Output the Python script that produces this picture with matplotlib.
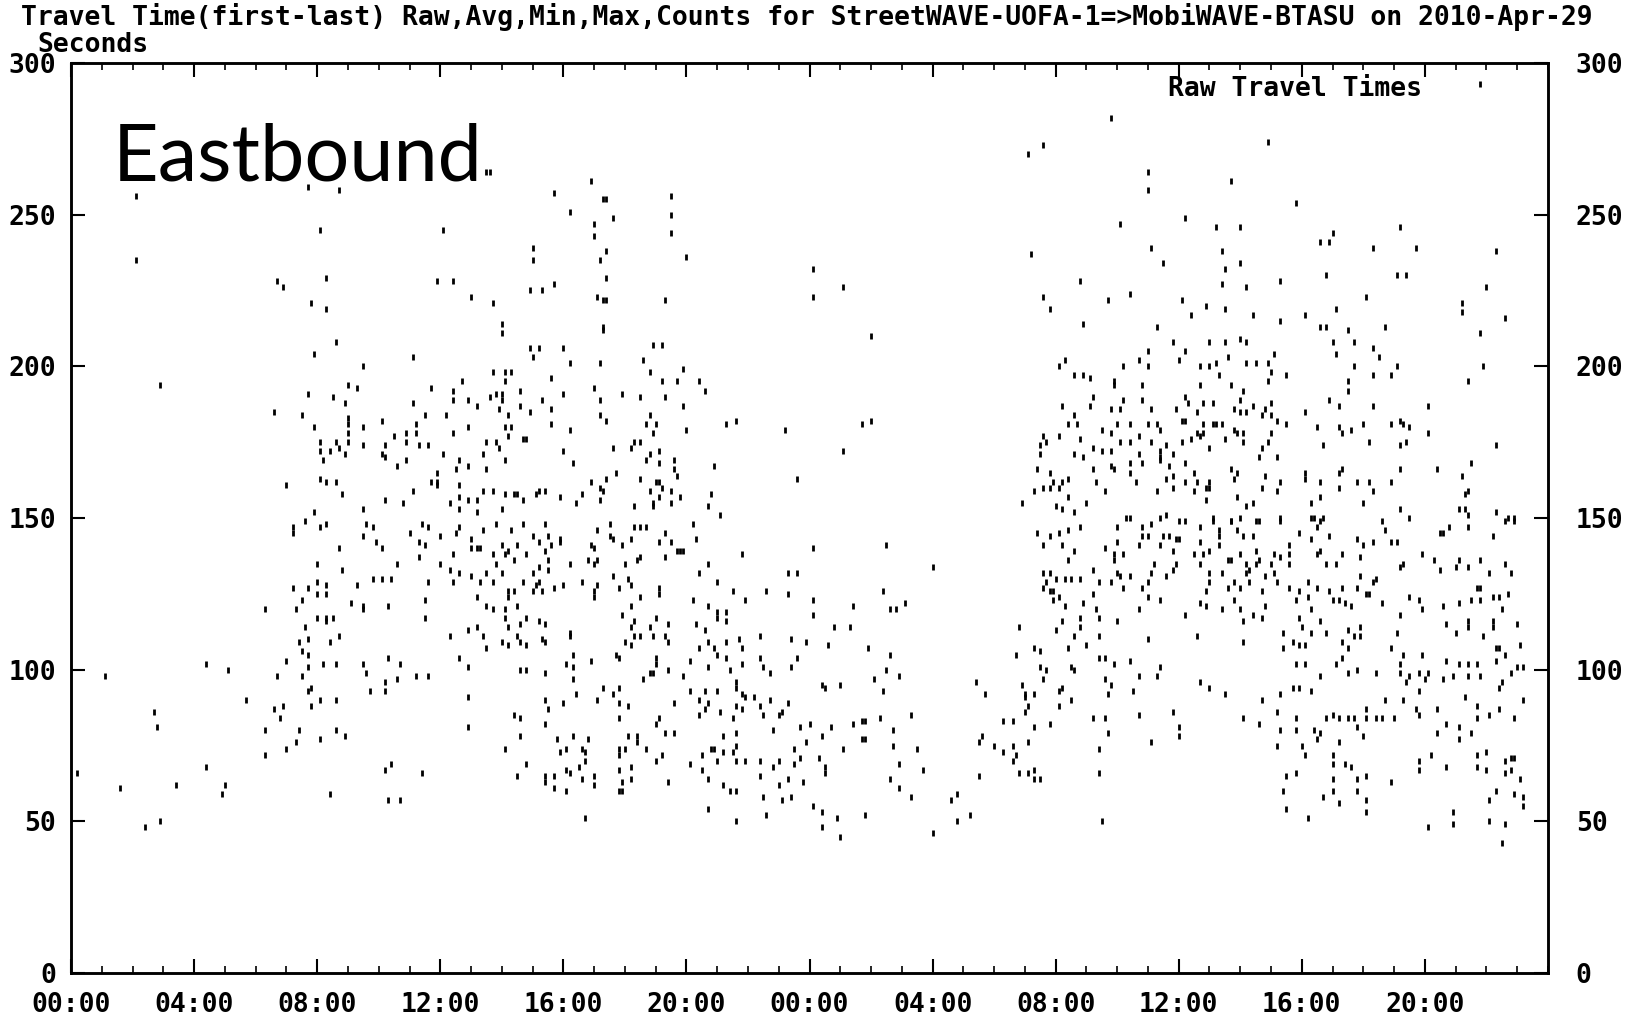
import numpy as np
import matplotlib
matplotlib.use("Agg")
import matplotlib.pyplot as plt
from matplotlib.ticker import MultipleLocator

# raw travel times, (hour since start of plot, seconds)
night1 = [(0.2, 66), (1.1, 98), (1.6, 61), (2.4, 48), (2.9, 50), (2.7, 86), (2.8, 81), (3.4, 62),
          (4.4, 102), (4.4, 68), (5.1, 100), (5.0, 62), (4.9, 59), (5.7, 90), (6.3, 120), (6.3, 72),
          (6.3, 80), (6.6, 87), (6.9, 88), (6.8, 84), (6.7, 98), (7.0, 103), (7.0, 74), (7.3, 76),
          (2.1, 256), (2.1, 235), (2.9, 194)]

day1_high = [(7.7, 259), (8.7, 258), (8.1, 245), (12.1, 245), (13.5, 264), (13.6, 264), (15.7, 257),
             (16.2, 251), (15.0, 239), (15.0, 235), (6.7, 228), (6.9, 226), (8.3, 229), (7.8, 221),
             (8.3, 219), (11.9, 228), (12.4, 228), (13.0, 223), (13.7, 221), (14.0, 214), (14.0, 211),
             (14.9, 225), (15.3, 225), (15.7, 227), (8.6, 208), (7.9, 204), (11.1, 203), (9.5, 200),
             (14.9, 206), (15.2, 206), (16.0, 206), (15.0, 203), (15.6, 196), (12.7, 195), (13.7, 198),
             (14.1, 198), (14.3, 198), (14.1, 195), (9.0, 194), (9.3, 193), (7.7, 191), (8.5, 190),
             (8.9, 188), (11.7, 193), (12.4, 192), (12.4, 189), (11.1, 188), (12.9, 189), (13.2, 187),
             (13.6, 190), (13.8, 191), (14.0, 191), (13.9, 186), (14.0, 189), (14.2, 184), (14.6, 192),
             (14.6, 187), (14.9, 185), (15.3, 189), (15.6, 186), (16.0, 191), (6.6, 185), (7.5, 184),
             (7.9, 180), (9.0, 183), (9.0, 181), (9.0, 178), (9.0, 175), (9.5, 180), (9.5, 174),
             (10.1, 182), (11.2, 181), (10.9, 178), (11.2, 178), (11.5, 184), (12.2, 184), (12.4, 178),
             (12.9, 180), (14.1, 180), (14.3, 180), (14.2, 177), (14.7, 176), (14.8, 176), (15.6, 181),
             (16.0, 172), (8.1, 175), (8.6, 175), (8.7, 173), (8.1, 172), (8.4, 172), (8.9, 171),
             (8.2, 169), (10.5, 177), (10.2, 174), (10.1, 171), (10.2, 170), (10.6, 167), (10.9, 175),
             (11.3, 174), (11.6, 174), (10.9, 169), (12.1, 171), (12.6, 169), (12.9, 167), (11.9, 165),
             (11.9, 162), (12.5, 166), (13.4, 171), (13.5, 166), (13.5, 175), (13.8, 175), (13.9, 173),
             (14.1, 169), (8.1, 163), (8.3, 162), (8.6, 162), (8.8, 158), (7.0, 161), (11.7, 162),
             (11.9, 161), (11.1, 159), (12.6, 161), (13.4, 159), (13.7, 159), (14.1, 158), (14.4, 158),
             (14.5, 158), (14.7, 156), (15.1, 158), (15.2, 159), (15.4, 159), (15.9, 157), (10.2, 156),
             (10.8, 155), (9.5, 153), (7.9, 152), (12.3, 155), (12.6, 157), (12.6, 153), (12.9, 156),
             (13.2, 156), (13.2, 152), (14.0, 153)]

day1_low = [(7.2, 147), (7.2, 145), (7.2, 127), (7.3, 120), (7.5, 123), (7.6, 114), (7.7, 110), (7.4, 109),
            (7.5, 106), (7.7, 105), (7.7, 101), (7.5, 98), (7.7, 93), (7.8, 94), (7.8, 88), (7.4, 80),
            (7.6, 149), (8.1, 147), (8.3, 148), (8.0, 135), (8.0, 129), (8.3, 128), (7.7, 127), (8.0, 125),
            (8.3, 125), (8.0, 117), (8.3, 117), (8.5, 117), (8.3, 116), (8.7, 140), (8.8, 133), (8.7, 111),
            (8.4, 109), (8.2, 102), (8.6, 102), (8.1, 90), (8.6, 90), (8.6, 80), (8.9, 78), (8.1, 77),
            (8.4, 59), (9.1, 122), (9.5, 121), (9.5, 120), (9.3, 128), (9.5, 144), (9.6, 148), (9.8, 147),
            (9.9, 142), (10.1, 140), (9.5, 102), (9.6, 99), (9.7, 93), (9.8, 130), (10.1, 130), (10.4, 130),
            (10.3, 121), (10.3, 104), (10.2, 96), (10.2, 93), (10.4, 69), (10.2, 67), (10.3, 57), (10.7, 57),
            (10.6, 135), (10.7, 102), (10.6, 97), (11.0, 145), (11.3, 142), (11.3, 137), (11.5, 141),
            (11.4, 148), (11.6, 147), (11.6, 129), (11.5, 123), (11.5, 117), (11.2, 98), (11.6, 98),
            (11.4, 66), (12.0, 135), (12.0, 144), (12.3, 133), (12.3, 111), (12.4, 138), (12.4, 129),
            (12.6, 147), (12.5, 145), (12.6, 132), (12.6, 104), (12.9, 101), (12.9, 91), (12.9, 81),
            (13.0, 143), (13.0, 140), (13.2, 140), (13.3, 140), (13.0, 131), (13.3, 129), (13.5, 132),
            (13.2, 124), (13.5, 121), (13.7, 120), (12.9, 113), (13.2, 114), (13.4, 111), (13.5, 107),
            (13.4, 146), (13.8, 148), (13.7, 138), (13.8, 135), (14.0, 141), (14.1, 138), (14.2, 139),
            (14.0, 132), (13.7, 129), (14.2, 126), (14.2, 124), (14.1, 120), (14.1, 117), (14.2, 114),
            (14.5, 121), (14.0, 109), (14.2, 108), (14.5, 111), (14.6, 109), (14.8, 108), (14.6, 115),
            (14.8, 117), (14.3, 146), (14.4, 136), (14.5, 141), (14.7, 148), (14.8, 138), (15.0, 144),
            (14.7, 129), (14.4, 126), (14.1, 74), (14.4, 85), (14.6, 84), (14.6, 78), (14.5, 65),
            (14.8, 69), (14.6, 100), (14.8, 100), (15.0, 132), (15.1, 128), (15.0, 126), (15.2, 129),
            (15.2, 134), (15.3, 126), (15.2, 116), (15.3, 110), (15.4, 109), (15.4, 115), (15.4, 139),
            (15.5, 136), (15.5, 133), (15.2, 142), (15.4, 148), (15.5, 144), (15.6, 141), (15.9, 142),
            (15.9, 143), (15.7, 127), (16.0, 128), (15.4, 99), (15.4, 90), (15.5, 87), (15.4, 82),
            (15.8, 77), (15.9, 73), (16.1, 74), (16.0, 89), (15.4, 63), (15.4, 65), (15.7, 65),
            (15.7, 61), (16.1, 67), (16.1, 60), (16.1, 102), (16.2, 111)]

eve1_high = [(16.9, 261), (17.3, 255), (17.4, 255), (17.6, 249), (17.0, 247), (17.0, 243), (17.4, 238),
             (17.2, 235), (17.4, 229), (17.1, 223), (17.3, 222), (17.4, 222), (17.3, 213), (17.3, 212),
             (19.5, 256), (19.5, 250), (19.5, 244), (20.0, 236), (19.3, 222), (18.9, 207), (19.2, 207),
             (18.6, 202), (16.2, 201), (17.2, 201), (18.8, 198), (19.9, 199), (19.2, 195), (19.7, 195),
             (20.4, 195), (20.6, 192), (17.0, 193), (17.9, 191), (18.5, 190), (19.3, 190), (17.2, 189),
             (19.9, 187), (17.2, 184), (17.4, 182), (18.8, 184), (18.7, 181), (19.0, 181), (18.9, 178),
             (20.0, 179), (21.3, 181), (21.6, 182), (23.2, 179), (16.2, 179), (24.1, 232), (24.1, 223),
             (25.1, 226), (26.0, 210), (26.0, 182), (25.7, 181), (25.1, 172), (23.6, 163), (31.1, 270),
             (31.6, 273), (31.2, 237), (31.6, 223), (31.8, 219), (32.1, 200), (31.6, 177), (31.5, 174),
             (31.7, 175), (31.5, 171), (31.4, 166), (31.8, 165), (31.9, 162), (32.1, 160), (31.8, 160),
             (31.6, 160), (31.3, 159), (30.9, 155), (32.0, 154), (17.6, 173), (18.2, 173), (18.3, 175),
             (18.5, 175), (18.8, 171), (19.1, 172), (18.7, 169), (19.1, 168), (19.6, 169), (19.6, 166),
             (19.7, 164), (20.9, 167), (16.3, 168), (17.7, 165), (16.9, 162), (17.4, 163), (18.5, 163),
             (19.0, 162), (19.1, 162), (19.2, 160), (16.6, 158), (17.2, 160), (17.3, 159), (18.8, 159),
             (19.5, 159), (20.8, 158), (16.4, 155), (17.2, 156), (18.3, 154), (18.9, 154), (18.9, 155),
             (19.1, 157), (19.5, 155), (19.8, 157), (20.7, 154), (21.1, 151)]

eve1_low = [(17.5, 148), (17.1, 146), (17.5, 144), (17.6, 143), (17.9, 141), (18.3, 147), (18.5, 147),
            (18.7, 147), (18.2, 143), (20.2, 148), (20.3, 143), (19.3, 145), (19.1, 142), (19.5, 142),
            (19.3, 137), (19.7, 139), (19.8, 139), (19.9, 139), (17.0, 140), (16.9, 141), (16.8, 136),
            (17.0, 135), (17.1, 136), (16.2, 135), (16.6, 129), (17.1, 128), (17.0, 126), (17.0, 124),
            (18.5, 137), (18.4, 136), (18.0, 135), (17.6, 131), (17.8, 127), (18.1, 130), (18.2, 128),
            (18.5, 124), (18.2, 121), (17.9, 118), (18.3, 116), (18.2, 114), (19.1, 127), (19.1, 125),
            (19.0, 117), (19.4, 115), (18.8, 114), (18.9, 111), (19.3, 111), (19.4, 109), (18.5, 111),
            (18.3, 111), (20.2, 123), (20.7, 135), (21.0, 129), (20.7, 121), (21.0, 119), (21.0, 117),
            (21.3, 119), (21.3, 116), (20.4, 132), (20.3, 115), (20.6, 113), (21.5, 126), (21.8, 138),
            (21.9, 123), (22.6, 126), (23.3, 132), (23.6, 132), (23.3, 125), (24.1, 140), (24.1, 123),
            (24.1, 118), (25.4, 121), (25.3, 114), (24.8, 114), (26.6, 120), (26.8, 120), (27.1, 122),
            (26.4, 126), (26.5, 141), (28.0, 134), (31.4, 145), (31.6, 141), (31.8, 144), (32.1, 145),
            (31.6, 132), (31.8, 132), (31.7, 129), (32.0, 130), (31.6, 127), (31.8, 126), (31.9, 126),
            (31.9, 123), (32.1, 124), (32.0, 113), (30.8, 114), (16.3, 105), (16.3, 101), (16.3, 97),
            (16.4, 92), (16.9, 103), (16.2, 112), (18.0, 109), (18.2, 108), (17.7, 105), (17.8, 104),
            (19.0, 104), (19.0, 102), (18.9, 99), (18.8, 99), (18.6, 97), (19.4, 100), (19.9, 98),
            (20.1, 103), (20.4, 107), (20.7, 109), (20.9, 107), (21.0, 105), (21.3, 104), (21.3, 109),
            (21.8, 107), (20.7, 101), (21.4, 100), (21.8, 102), (21.7, 110), (22.4, 111), (22.4, 104),
            (22.5, 101), (22.7, 99), (23.6, 104), (23.4, 110), (23.4, 101), (23.9, 109), (24.6, 108),
            (25.9, 107), (26.6, 105), (26.5, 100), (26.9, 98), (26.1, 97), (24.4, 95), (24.5, 94),
            (25.0, 95), (26.4, 93), (17.3, 94), (17.6, 92), (17.8, 94), (17.1, 90), (17.8, 89), (18.1, 88),
            (17.8, 84), (18.1, 78), (18.4, 78), (18.4, 76), (18.7, 74), (19.0, 82), (19.1, 84), (19.3, 79),
            (19.6, 79), (19.6, 89), (19.2, 72), (19.0, 70), (20.1, 93), (20.4, 90), (20.7, 89), (20.6, 87),
            (20.6, 93), (21.0, 93), (20.4, 85), (21.1, 86), (21.5, 84), (21.6, 96), (21.6, 94), (21.8, 92),
            (21.9, 91), (21.6, 88), (21.8, 87), (22.2, 91), (22.4, 88), (22.7, 90), (22.5, 85), (23.0, 85),
            (23.1, 86), (23.3, 89), (22.8, 80), (21.2, 78), (21.6, 79), (20.8, 74), (20.9, 74), (20.5, 72),
            (21.2, 73), (21.5, 73), (21.6, 75), (20.1, 69), (20.5, 67), (21.0, 70), (21.6, 70), (21.9, 70),
            (22.4, 70), (22.4, 65), (22.8, 68), (23.0, 70), (23.5, 69), (20.7, 64), (21.2, 62), (21.4, 60),
            (21.6, 60), (23.7, 81), (24.0, 82), (23.9, 76), (23.5, 74), (23.7, 71), (24.3, 71), (24.4, 78),
            (24.7, 81), (24.5, 68), (24.5, 66), (23.8, 63), (23.3, 64), (23.0, 62), (22.5, 58), (23.1, 57),
            (23.4, 58), (25.1, 74), (25.4, 82), (25.7, 83), (25.8, 83), (25.7, 77), (25.8, 77), (26.3, 84),
            (26.7, 80), (26.7, 75), (26.9, 69), (26.6, 64), (26.9, 61), (27.3, 58), (27.5, 74), (27.7, 67),
            (27.3, 85), (20.7, 54), (21.6, 50), (22.6, 52), (24.1, 55), (24.4, 53), (24.4, 48), (24.9, 51),
            (25.0, 45), (25.8, 52), (28.0, 46), (28.6, 57), (28.8, 59), (28.8, 50), (29.2, 52), (16.7, 51),
            (16.3, 78), (16.8, 77), (16.6, 74), (16.7, 70), (16.7, 73), (16.5, 68), (16.6, 64), (16.2, 66),
            (17.0, 65), (17.0, 62), (17.8, 74), (18.0, 74), (17.8, 72), (17.8, 67), (18.2, 68), (17.9, 63),
            (17.9, 60), (17.8, 60), (18.2, 64), (19.4, 63), (29.4, 96), (29.7, 92), (29.6, 78), (29.5, 76),
            (29.5, 65), (30.0, 75), (30.3, 83), (30.6, 83), (30.3, 73), (30.6, 75), (30.7, 72), (30.6, 70),
            (30.8, 66), (31.1, 66), (31.3, 64), (31.5, 64), (31.3, 67), (31.1, 76), (30.7, 105), (31.3, 107),
            (31.5, 106), (31.5, 101), (31.7, 100), (31.6, 97), (30.9, 95), (31.0, 92), (31.0, 91), (31.3, 92),
            (31.1, 88), (31.0, 86), (31.3, 81), (31.8, 82), (32.1, 88)]

day2_high = [(45.8, 293), (33.8, 282), (38.9, 274), (35.0, 264), (35.0, 258), (37.7, 261), (39.8, 254),
             (34.1, 247), (36.2, 249), (37.2, 246), (38.0, 246), (43.2, 246), (41.0, 244), (40.6, 241),
             (40.9, 241), (42.3, 239), (43.7, 239), (46.3, 238), (35.1, 239), (35.5, 234), (37.4, 238),
             (37.5, 232), (37.4, 227), (38.0, 234), (32.8, 228), (34.4, 224), (33.7, 222), (36.1, 222),
             (38.2, 226), (39.3, 228), (40.8, 230), (43.1, 230), (43.4, 230), (46.0, 226), (42.1, 223),
             (41.1, 219), (45.2, 221), (45.2, 218), (46.6, 216), (45.8, 211), (45.9, 200), (45.4, 195),
             (36.9, 220), (37.5, 219), (36.4, 217), (38.4, 217), (39.3, 215), (40.1, 217), (32.9, 214),
             (35.3, 213), (40.6, 213), (40.8, 213), (41.5, 212), (42.7, 213), (35.8, 208), (37.0, 208),
             (37.5, 208), (38.0, 209), (38.2, 208), (41.0, 208), (41.7, 208), (42.3, 206), (32.3, 202),
             (32.6, 197), (32.9, 197), (33.1, 196), (33.9, 195), (34.2, 200), (34.7, 202), (35.0, 205),
             (35.0, 200), (36.0, 202), (36.2, 205), (34.8, 194), (36.7, 200), (37.0, 200), (37.2, 201),
             (37.6, 203), (37.3, 197), (36.7, 194), (37.7, 194), (38.2, 201), (38.5, 201), (38.9, 201),
             (39.1, 204), (39.0, 198), (38.9, 195), (39.5, 197), (41.1, 204), (41.7, 200), (42.3, 197),
             (42.5, 203), (42.9, 197), (43.1, 200), (41.5, 195), (41.5, 192), (32.2, 187), (32.6, 184),
             (33.1, 187), (33.2, 190), (33.8, 186), (34.1, 186), (34.2, 189), (33.9, 194), (34.8, 189),
             (35.1, 186), (35.9, 186), (36.2, 190), (36.3, 188), (36.6, 185), (36.8, 188), (37.1, 188),
             (36.1, 182), (36.2, 182), (37.8, 186), (38.0, 189), (38.1, 192), (38.0, 185), (38.2, 185),
             (38.4, 187), (38.7, 184), (38.8, 186), (39.0, 188), (39.0, 184), (39.2, 182), (39.5, 181),
             (40.1, 185), (40.5, 180), (40.9, 189), (41.2, 187), (42.3, 187), (44.1, 187), (43.2, 182),
             (43.3, 181), (42.9, 181), (43.5, 180), (42.0, 181), (41.6, 179), (41.3, 178), (41.2, 180),
             (32.4, 181), (32.7, 181), (33.5, 179), (33.8, 178), (34.0, 181), (34.4, 181), (35.0, 181),
             (35.3, 181), (35.4, 179), (37.1, 181), (37.2, 181), (37.4, 181), (36.8, 181), (36.6, 178),
             (36.7, 177), (36.4, 176), (36.8, 178), (37.8, 179), (37.9, 178), (38.1, 178), (32.1, 177),
             (32.8, 176), (33.2, 173), (33.5, 172), (33.8, 172), (34.1, 175), (34.4, 175), (34.7, 177),
             (35.1, 175), (35.6, 174), (35.8, 171), (35.4, 172), (36.1, 175), (37.0, 173), (37.5, 176),
             (38.1, 175), (38.7, 173), (38.9, 175), (39.0, 178), (40.7, 174), (42.2, 175), (43.2, 174),
             (43.4, 175), (44.1, 178), (46.3, 174), (32.6, 171), (32.9, 170), (33.2, 166), (33.8, 167),
             (33.9, 166), (34.4, 168), (34.4, 165), (34.7, 171), (34.8, 168), (35.4, 170), (35.4, 169),
             (35.7, 167), (35.8, 164), (35.6, 163), (36.2, 168), (36.2, 162), (36.5, 165), (36.6, 162),
             (37.0, 162), (37.7, 166), (37.8, 163), (37.9, 165), (38.6, 170), (39.2, 170), (38.8, 164),
             (39.3, 162), (38.7, 160), (39.2, 159), (40.1, 165), (40.1, 163), (40.6, 162), (41.2, 165),
             (41.3, 166), (41.2, 160), (41.8, 162), (42.2, 162), (42.3, 159), (42.9, 162), (43.2, 166),
             (44.4, 166), (45.2, 164), (45.5, 168), (32.4, 163), (32.2, 162), (33.3, 162), (33.6, 159),
             (34.6, 162), (35.3, 159), (35.8, 160), (36.5, 159), (36.9, 160), (37.0, 160), (36.9, 156),
             (33.0, 155), (32.4, 157), (32.2, 153), (32.6, 152), (37.9, 157), (38.2, 154), (38.4, 155),
             (40.3, 155), (40.6, 157), (42.0, 155), (45.3, 158), (45.4, 159), (34.3, 150), (34.4, 150),
             (35.4, 150), (35.6, 151), (36.0, 149), (37.1, 150), (37.7, 149), (38.0, 150), (38.5, 149),
             (39.3, 150), (40.3, 150), (40.4, 150), (40.7, 150), (43.2, 153), (43.5, 150), (45.1, 153),
             (45.3, 153), (45.4, 151), (46.3, 152), (46.7, 150), (46.9, 150), (42.6, 149)]

day2_low = [(32.4, 146), (32.8, 147), (34.0, 147), (34.8, 147), (34.8, 144), (35.0, 144), (35.1, 148),
            (35.5, 144), (35.7, 144), (35.9, 143), (36.0, 143), (36.2, 149), (36.7, 147), (37.1, 149),
            (37.3, 146), (37.3, 144), (37.3, 141), (37.7, 149), (37.9, 146), (38.1, 144), (38.4, 144),
            (38.6, 149), (39.3, 149), (39.9, 145), (40.3, 143), (40.5, 147), (40.6, 149), (40.9, 144),
            (41.8, 143), (42.3, 142), (42.7, 146), (42.9, 142), (43.1, 142), (44.5, 145), (44.6, 145),
            (44.8, 147), (45.4, 147), (46.2, 144), (46.6, 149), (46.9, 149), (32.2, 141), (32.6, 139),
            (32.4, 136), (33.6, 140), (34.0, 142), (33.9, 138), (34.2, 138), (33.9, 136), (34.0, 132),
            (34.1, 131), (34.4, 131), (34.7, 141), (35.2, 135), (35.1, 132), (35.4, 141), (35.8, 139),
            (35.9, 135), (35.8, 133), (35.6, 131), (36.5, 138), (36.7, 142), (36.7, 135), (36.8, 138),
            (37.0, 139), (37.0, 132), (37.4, 132), (37.6, 136), (37.7, 136), (38.0, 138), (38.2, 135),
            (38.2, 132), (38.3, 133), (38.5, 135), (38.5, 139), (38.6, 136), (38.8, 131), (39.1, 138),
            (39.3, 137), (39.0, 135), (39.1, 132), (39.6, 141), (39.6, 138), (39.6, 135), (40.5, 138),
            (40.6, 139), (40.8, 135), (41.1, 135), (41.3, 138), (41.9, 137), (41.9, 131), (42.0, 141),
            (43.2, 134), (43.3, 135), (43.9, 138), (44.3, 136), (44.5, 133), (45.0, 134), (45.1, 136),
            (45.4, 134), (45.8, 136), (46.1, 132), (46.6, 135), (46.8, 132), (33.2, 133), (32.3, 130),
            (32.5, 130), (32.8, 130), (33.2, 125), (33.4, 129), (33.8, 129), (34.2, 127), (34.8, 127),
            (35.0, 129), (35.0, 124), (35.4, 123), (34.7, 120), (34.0, 116), (33.4, 117), (33.3, 120),
            (32.8, 117), (32.8, 114), (32.9, 122), (32.3, 121), (32.2, 116), (36.2, 118), (36.7, 122),
            (36.9, 121), (36.9, 126), (37.0, 129), (37.4, 120), (37.6, 127), (37.8, 129), (37.8, 123),
            (38.0, 120), (38.0, 127), (38.1, 116), (38.3, 129), (38.4, 118), (38.7, 126), (38.8, 121),
            (38.7, 117), (39.2, 129), (39.6, 127), (39.8, 123), (39.9, 126), (40.2, 124), (40.2, 129),
            (40.3, 120), (39.9, 117), (40.0, 114), (40.5, 127), (40.6, 116), (40.9, 126), (41.0, 123),
            (41.2, 123), (41.3, 127), (41.4, 122), (41.6, 121), (41.8, 127), (42.1, 125), (42.2, 125),
            (42.3, 129), (42.4, 130), (42.6, 122), (43.5, 124), (43.8, 123), (43.9, 120), (43.2, 118),
            (44.6, 121), (44.7, 115), (45.1, 122), (45.4, 116), (45.5, 123), (45.7, 127), (45.8, 127),
            (45.8, 123), (46.2, 124), (46.4, 124), (46.5, 120), (46.7, 125), (47.0, 115), (46.2, 116),
            (46.2, 114), (45.4, 114), (45.0, 112), (45.9, 111), (43.1, 112), (42.9, 107), (43.3, 105),
            (43.2, 102), (43.9, 105), (32.6, 111), (32.4, 107), (33.0, 108), (33.4, 111), (33.4, 104),
            (33.6, 104), (33.9, 102), (34.4, 103), (35.0, 110), (35.4, 101), (35.3, 98), (34.7, 98),
            (36.6, 111), (38.1, 109), (39.4, 112), (39.4, 107), (39.7, 109), (39.9, 108), (40.1, 108),
            (39.8, 102), (40.1, 102), (40.3, 112), (40.8, 112), (41.1, 102), (41.3, 104), (41.3, 109),
            (41.5, 113), (41.5, 107), (41.7, 111), (41.9, 111), (41.9, 114), (41.5, 99), (41.8, 100),
            (42.4, 99), (40.6, 98), (43.2, 99), (43.4, 96), (43.5, 98), (43.8, 99), (44.1, 99), (44.7, 103),
            (44.9, 98), (45.1, 102), (45.4, 102), (45.7, 102), (45.8, 98), (45.4, 98), (46.3, 107),
            (46.3, 103), (46.4, 107), (46.6, 105), (46.8, 99), (47.1, 108), (47.0, 101), (47.2, 101),
            (44.6, 97), (44.0, 97), (32.1, 93), (32.5, 90), (32.5, 101), (32.6, 100), (32.2, 94),
            (33.6, 97), (33.8, 95), (33.7, 92), (34.5, 93), (34.7, 85), (33.2, 84), (33.6, 84), (33.7, 79),
            (35.8, 86), (36.0, 81), (36.0, 78), (36.7, 96), (37.0, 94), (37.5, 92), (38.1, 84), (38.6, 82),
            (38.7, 90), (39.2, 86), (39.3, 92), (39.7, 94), (39.9, 94), (40.3, 93), (39.8, 84), (39.3, 80),
            (39.8, 80), (40.4, 80), (40.5, 77), (40.6, 79), (40.8, 84), (41.0, 85), (41.2, 84), (41.5, 84),
            (41.7, 84), (41.8, 81), (42.0, 78), (42.1, 87), (42.1, 84), (42.4, 84), (42.6, 84), (42.7, 90),
            (43.0, 84), (43.3, 90), (43.7, 87), (43.8, 85), (43.8, 93), (44.4, 87), (44.4, 79), (44.7, 82),
            (45.1, 81), (45.1, 77), (45.3, 91), (45.5, 79), (45.7, 88), (45.7, 84), (46.1, 85), (46.4, 87),
            (46.4, 94), (46.5, 96), (46.9, 84), (47.2, 90), (33.4, 74), (33.4, 66), (33.5, 50), (35.1, 76),
            (39.2, 75), (40.0, 75), (40.1, 72), (41.0, 72), (41.0, 69), (41.2, 76), (41.4, 69), (41.6, 68),
            (39.5, 65), (39.8, 66), (41.0, 64), (41.8, 64), (42.1, 65), (39.4, 60), (41.0, 60), (41.8, 60),
            (40.7, 58), (41.2, 56), (42.1, 57), (42.1, 53), (39.5, 54), (40.2, 51), (42.9, 63), (43.8, 67),
            (43.8, 70), (44.2, 72), (44.7, 68), (44.9, 53), (44.9, 49), (44.1, 48), (45.7, 72), (46.0, 73),
            (46.0, 67), (45.7, 68), (46.6, 70), (46.8, 71), (46.9, 71), (46.6, 66), (46.8, 67), (47.1, 64),
            (46.3, 60), (46.1, 57), (46.9, 59), (47.2, 58), (47.2, 55), (46.1, 50), (46.6, 49), (46.5, 43)]

hour_ticks = list(range(0, 48, 4))
hour_labels = ["00:00", "04:00", "08:00", "12:00", "16:00", "20:00",
               "00:00", "04:00", "08:00", "12:00", "16:00", "20:00"]
sec_ticks = [0, 50, 100, 150, 200, 250, 300]

title = "Travel Time(first-last) Raw,Avg,Min,Max,Counts for StreetWAVE-UOFA-1=>MobiWAVE-BTASU on 2010-Apr-29"

pts = np.array(night1 + day1_high + day1_low + eve1_high + eve1_low + day2_high + day2_low, dtype=float)

mono = dict(family="DejaVu Sans Mono", weight="bold", size=19)

fig = plt.figure(figsize=(16.41, 10.19), dpi=100)
ax = fig.add_axes([0.0433, 0.0451, 0.9000, 0.8931])

ax.plot(pts[:, 0], pts[:, 1], ls="none", marker="|", ms=5, mew=2, color="black")

ax.set_xlim(0, 48)
ax.set_ylim(0, 300)
ax.set_xticks(hour_ticks)
ax.set_xticklabels(hour_labels, **mono)
ax.xaxis.set_minor_locator(MultipleLocator(1))
ax.set_yticks(sec_ticks)
ax.set_yticklabels([str(v) for v in sec_ticks], **mono)
ax.tick_params(axis="x", which="major", direction="in", top=True, length=10, width=1.5, pad=14)
ax.tick_params(axis="x", which="minor", direction="in", top=True, length=5, width=1.2)
ax.tick_params(axis="y", which="major", direction="in", left=True, right=False,
               labelleft=True, length=10, width=1.5, pad=11)

# right-hand scale sits a little further from the frame
ax2 = ax.twinx()
ax2.set_ylim(0, 300)
ax2.set_yticks(sec_ticks)
ax2.set_yticklabels([str(v) for v in sec_ticks], **mono)
ax2.tick_params(axis="y", direction="in", length=10, width=1.5, pad=20)

for a in (ax, ax2):
    for sp in a.spines.values():
        sp.set_linewidth(1.8)

fig.text(0.0128, 0.997, title, ha="left", va="top", **mono)
fig.text(0.0225, 0.969, "Seconds", ha="left", va="top", **mono)
ax.text(0.8285, 0.986, "Raw Travel Times", transform=ax.transAxes, ha="center", va="top", **mono)
fig.text(0.0687, 0.8224, "Eastbound", ha="left", va="baseline", family="Lato", size=57)

fig.savefig("out.png", dpi=100)
